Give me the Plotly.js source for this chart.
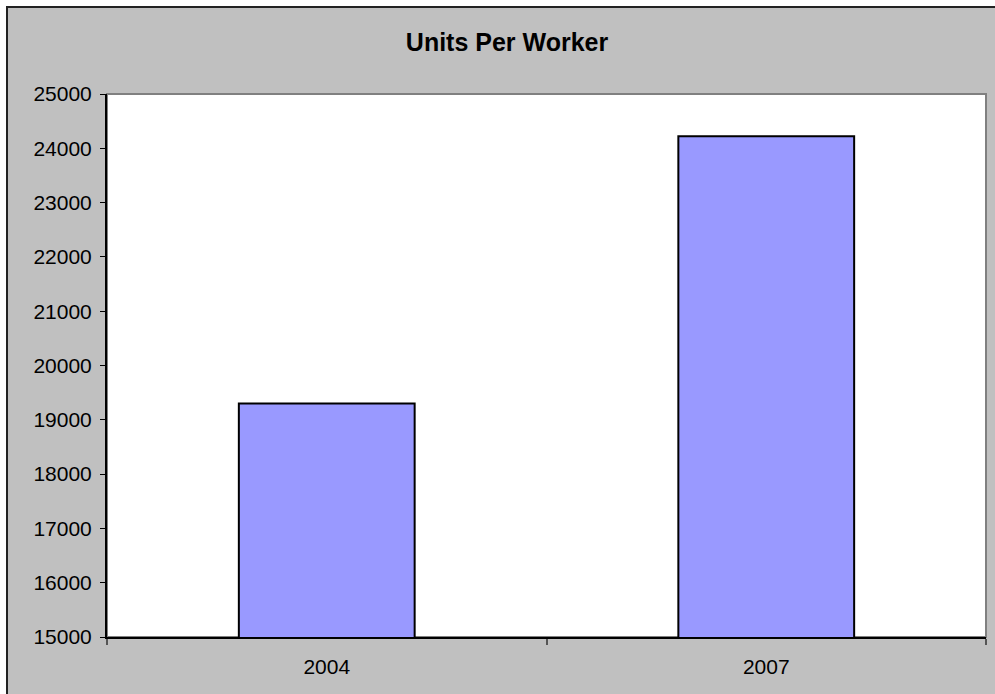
<!DOCTYPE html>
<html>
<head>
<meta charset="utf-8">
<script src="https://cdn.plot.ly/plotly-3.0.1.min.js"></script>
<style>
  html, body { margin: 0; padding: 0; background: #ffffff; overflow: hidden; }
  #frame { position: absolute; left: 6px; top: 6px; width: 989px; height: 688px;
           border-left: 2px solid #222; border-top: 2px solid #222; background: #C0C0C0; }
  #chart { width: 987px; height: 686px; }
</style>
</head>
<body>
<div id="frame"><div id="chart"></div></div>
<script>
const years = ['2004', '2007'];
const unitsPerWorker = [19300, 24220];
const yTicks = [15000, 16000, 17000, 18000, 19000, 20000, 21000, 22000, 23000, 24000, 25000];

const trace = {
  type: 'bar',
  x: years,
  y: unitsPerWorker,
  width: 0.4,
  marker: { color: '#9999FF', line: { color: '#000000', width: 2 } },
  hoverinfo: 'x+y'
};

const layout = {
  width: 987,
  height: 686,
  paper_bgcolor: '#C0C0C0',
  plot_bgcolor: '#FFFFFF',
  margin: { l: 99, r: 9, t: 86, b: 57, pad: 0 },
  showlegend: false,
  font: { family: 'Liberation Sans, Arial, sans-serif', color: '#000000' },
  title: {
    text: 'Units Per Worker',
    font: { family: 'Liberation Sans, Arial, sans-serif', size: 25, color: '#000000', weight: 'bold' },
    xref: 'container', x: 0.5056, xanchor: 'center',
    yref: 'container', y: 0.950, yanchor: 'middle'
  },
  xaxis: {
    type: 'category',
    showgrid: false,
    showline: true, linecolor: '#000000', linewidth: 2,
    ticks: 'outside', tickson: 'boundaries', ticklen: 6, tickcolor: '#555555', tickwidth: 2,
    ticklabelstandoff: 10,
    tickfont: { size: 21, color: '#000000' },
    zeroline: false
  },
  yaxis: {
    range: [15000, 25000],
    tickvals: yTicks,
    ticktext: yTicks.map(String),
    showgrid: false,
    showline: true, linecolor: '#000000', linewidth: 2,
    ticks: 'outside', ticklen: 5, tickcolor: '#000000', tickwidth: 1,
    ticklabelstandoff: 4,
    tickfont: { size: 21, color: '#000000' },
    zeroline: false
  },
  shapes: [{
    type: 'rect', xref: 'paper', yref: 'paper', x0: 0, x1: 1, y0: 0, y1: 1,
    line: { color: '#808080', width: 2 }, layer: 'below'
  }]
};

Plotly.newPlot('chart', [trace], layout, { displayModeBar: false, staticPlot: true });
</script>
</body>
</html>
